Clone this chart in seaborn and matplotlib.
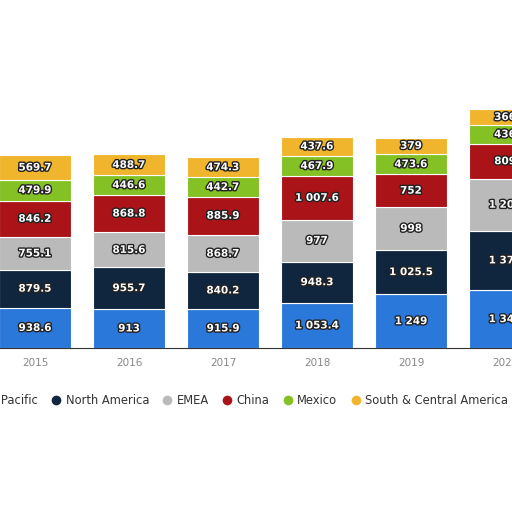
import matplotlib
matplotlib.use("Agg")
import matplotlib.pyplot as plt
import matplotlib.patheffects as pe
from matplotlib.lines import Line2D
import seaborn as sns
import pandas as pd
import numpy as np

years = ["2015", "2016", "2017", "2018", "2019", "2020"]
regions = ["Asia Pacific", "North America", "EMEA", "China", "Mexico", "South & Central America"]
asia_pacific = [938.6, 913, 915.9, 1053.4, 1249, 1345]
north_america = [879.5, 955.7, 840.2, 948.3, 1025.5, 1375]
emea = [755.1, 815.6, 868.7, 977, 998, 1205]
china = [846.2, 868.8, 885.9, 1007.6, 752, 809]
mexico = [479.9, 446.6, 442.7, 467.9, 473.6, 436]
south_central = [569.7, 488.7, 474.3, 437.6, 379, 366]
colors = ["#2b78db", "#10263f", "#bababa", "#aa1419", "#83c124", "#f0b52c"]

series = [asia_pacific, north_america, emea, china, mexico, south_central]
df = pd.DataFrame({r: s for r, s in zip(regions, series)}, index=years)

sns.set_style("white")
fig = plt.figure(figsize=(5.12, 5.12), dpi=100)
ax = fig.add_axes([0, 0.32, 1, 0.506])

def fmt(v):
    s = f"{v:,.1f}".replace(",", " ")
    if s.endswith(".0"):
        s = s[:-2]
    return s

x = np.arange(len(years))
bottom = np.zeros(len(years))
for r, c in zip(regions, colors):
    vals = df[r].values
    ax.bar(x, vals, bottom=bottom, width=0.77, color=c, edgecolor="white", linewidth=0.8, zorder=2)
    for xi, b, v in zip(x, bottom, vals):
        t = ax.text(xi, b + v / 2, fmt(v), ha="center", va="center", color="white",
                    fontsize=7.5, fontweight="bold", zorder=3, clip_on=True)
        t.set_path_effects([pe.withStroke(linewidth=2, foreground="#222222")])
    bottom += vals

ax.set_xlim(-0.372, 5.074)
ax.set_ylim(0, 6000)
ax.set_yticks([])
ax.tick_params(left=False, bottom=False)
ax.set_xticks(x)
ax.set_xticklabels(years, color="#888888", fontsize=7.5)
for s in ["top", "right", "left"]:
    ax.spines[s].set_visible(False)
ax.spines["bottom"].set_color("#333333")

handles = [Line2D([0], [0], marker="o", color="w", markerfacecolor=c, markersize=8) for c in colors]
fig.legend(handles, regions, loc="center", bbox_to_anchor=(0.455, 1 - 401 / 512), ncol=6,
           frameon=False, fontsize=8.3, handletextpad=0.3, columnspacing=1.1,
           labelcolor="#333333", handlelength=1)

fig.savefig("out.png", dpi=100)
